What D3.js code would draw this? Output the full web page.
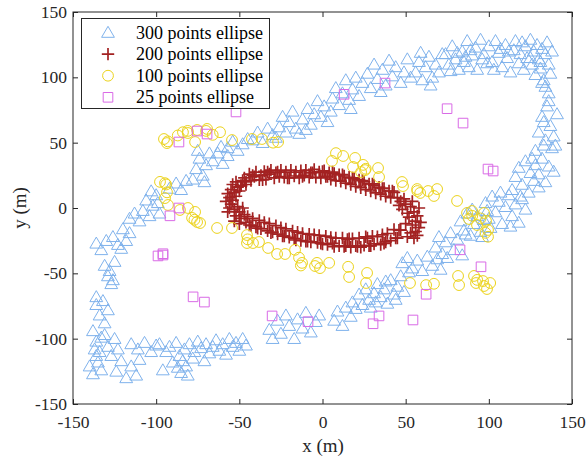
<!DOCTYPE html>
<html>
<head>
<meta charset="utf-8">
<script src="https://cdn.jsdelivr.net/npm/d3@7"></script>
<style>
  html, body { margin: 0; padding: 0; background: #fff; }
  svg { display: block; }
  svg text { font-family: "Liberation Serif", "Tinos", "Times New Roman", "Times", "Nimbus Roman", "FreeSerif", "DejaVu Serif", serif; }
</style>
</head>
<body>
<svg id="chart" width="588" height="460"></svg>
<script>
// Sampled ellipse points (metres), one array per sampling density
const pts300 = [
  [97,118],[100,124],[102,112],[104,128],[106,119],[108,108],[110,125],[111,115],[113,104],[115,121],
  [116,128],[118,111],[119,118],[121,106],[122,124],[123,115],[125,129],[126,110],[127,120],[128,102],
  [129,125],[130,114],[131,107],[132,122],[133,98],[134,118],[135,127],[136,110],[137,103],[138,120],
  [134,93],[136,88],[132,96],[131,112],[125,115],[120,127],[112,120],[107,122],[103,106],[99,111],
  [74,118],[76,110],[78,124],[80,114],[82,106],[84,120],[85,112],[87,128],[88,108],[90,117],
  [92,123],[93,106],[95,129],[96,114],[89,121],[81,119],[77,105],[86,116],
  [56,104],[58,112],[60,98],[62,108],[64,116],[66,100],[68,110],[70,104],[72,118],[65,94],[59,119],
  [24,96],[27,103],[29,92],[31,110],[33,99],[36,106],[38,94],[40,113],[42,101],[44,108],
  [47,96],[49,104],[51,114],[53,100],[35,89],
  [6,84],[8,92],[10,79],[12,88],[14,98],[16,83],[18,91],[20,100],[22,86],[17,76],
  [-12,68],[-9,76],[-7,64],[-5,72],[-3,82],[-1,70],[1,78],[3,66],[5,74],[-10,60],
  [-26,62],[-24,70],[-22,58],[-20,66],[-18,74],[-16,61],[-14,57],[-28,54],
  [-42,52],[-39,58],[-36,50],[-33,61],[-30,56],
  [-57,46],[-54,51],[-51,44],[-48,49],[-45,53],
  [-66,36],[-63,42],[-60,34],[-57,40],[-61,47],
  [-78,22],[-76,30],[-74,38],[-72,25],[-70,33],[-68,42],[-75,44],[-71,20],
  [-92,15],[-88,19],[-85,14],[-82,21],
  [-108,-2],[-106,6],[-104,-6],[-102,2],[-100,10],[-98,-4],[-103,13],[-99,4],
  [-116,-8],[-113,-4],[-110,-10],
  [-126,-22],[-123,-28],[-120,-16],[-118,-25],[-116,-19],[-121,-31],
  [-136,-27],[-133,-32],[-130,-25],
  [-131,-44],[-129,-52],[-127,-58],[-125,-41],[-128,-48],[-126,-55],
  [-136,-68],
  [-136,-74],[-134,-82],[-131,-88],[-129,-78],[-132,-71],
  [-138,-94],[-136,-102],[-134,-110],[-131,-97],[-129,-106],[-127,-113],[-125,-100],[-123,-108],[-133,-99],[-137,-108],
  [-140,-121],[-138,-127],[-135,-118],[-133,-124],[-136,-113],
  [-124,-125],[-121,-117],[-118,-130],[-115,-121],[-112,-128],[-110,-116],
  [-115,-104],[-111,-108],[-107,-103],[-103,-110],[-100,-105],
  [-98,-104],[-96,-124],[-94,-110],[-92,-106],[-90,-118],[-88,-103],[-86,-113],[-85,-126],[-83,-108],[-82,-121],
  [-80,-104],[-78,-115],[-77,-110],[-75,-102],[-73,-107],[-71,-117],[-70,-104],[-68,-111],[-66,-106],[-64,-101],
  [-62,-109],[-60,-104],[-58,-112],[-56,-100],[-54,-106],[-52,-103],[-50,-109],[-48,-100],[-46,-105],[-87,-122],
  [-84,-117],[-81,-128],
  [-32,-93],[-30,-100],[-27,-86],[-25,-96],[-22,-82],[-20,-90],[-17,-100],[-15,-85],[-12,-92],[-10,-80],
  [-7,-95],[-4,-87],[-2,-82],
  [7,-86],[9,-79],[12,-90],[14,-76],[17,-83],
  [18,-72],[20,-77],[22,-66],[24,-74],[26,-62],[28,-70],[29,-76],[31,-65],[33,-58],[35,-68],
  [37,-62],[39,-73],[41,-55],[43,-66],[45,-60],[47,-52],[49,-64],[32,-72],[38,-56],[44,-70],
  [48,-42],[51,-38],[54,-46],[57,-40],[60,-48],[63,-37],[66,-44],[69,-39],[71,-47],[52,-49],
  [68,-30],[70,-22],[72,-35],[74,-26],[77,-19],[79,-32],[81,-24],[84,-36],[86,-20],[75,-38],
  [83,-10],[85,-17],[87,-4],[89,-21],[91,-12],[93,-6],[95,-18],[97,-9],[99,-2],[101,-15],[90,-1],[96,-22],
  [98,4],[100,-8],[102,9],[104,-3],[106,5],[108,-12],[110,1],[112,10],[114,-6],[116,3],
  [118,-11],[120,7],[122,-1],[107,12],[113,-14],
  [114,14],[116,24],[118,31],[120,18],[122,36],[124,12],[125,27],[127,21],[128,33],[130,16],[119,9],[126,38],
  [128,44],[130,26],[132,38],[134,20],[136,32],[138,46],[133,48],[139,28],
  [130,58],[132,70],[134,52],[135,78],[137,63],[139,55],[141,72],[136,82],[133,66],[140,48]
];

const pts200 = [
  [-49,17],[-47,23],[-46,20],[-44,26],[-43,21],[-41,24],[-40,27.5],[-38,21.5],[-37,25],[-35,28],
  [-34,22],[-32,26],[-31,29],[-29,23],[-28,27],[-26,24],[-25,29],[-23,23.5],[-22,27.5],[-20,23],
  [-19,29],[-17,24.5],[-16,27.5],[-14,23],[-13,28.5],[-11,25],[-10,29],[-8,23.5],[-7,27],[-5,29.5],
  [-4,23.5],[-2,27.5],[-1,23],[1,28.5],[2,24],[4,27],[5,22],[7,26.5],[8,21],[10,25.5],
  [11,20.5],[13,24.5],[14,19],[16,23.5],[17,18],[19,22.5],[20,16.5],[22,21.5],[23,15.5],[25,20],
  [26,14],[28,18.5],[29,13],[31,17.5],[32,11.5],[34,16],[35,10.5],[37,15],[38,9],[40,13],
  [41,8],[43,12],
  [45,8],[47,5],[46,2],[49,7],[48,-1],[50,3],[51,-4],[53,1],[52,-7],[54,5],
  [55,-3],[56,-10],[54,-13],[57,-6],[58,-15],[56,-18],[59,-11],[57,-21],[55,-23],[53,-19],
  [51,-22],[58,0],[50,-12],[47,-17],
  [46,-17],[44,-23],[43,-16.5],[41,-25],[39,-19.5],[38,-26],[36,-20.5],[35,-28],[33,-22],[31,-27.5],
  [30,-21.5],[28,-29],[27,-23],[25,-28.5],[23,-30],[22,-23],[20,-29],[18,-23.5],[17,-30],[15,-24],
  [13,-29.5],[12,-23],[10,-29],[8,-23],[7,-29.5],[5,-22.5],[3,-28],[2,-21.5],[0,-27.5],[-2,-21],
  [-3,-26.5],[-5,-20.5],[-7,-26],[-8,-20],[-10,-25.5],[-12,-19.5],[-13,-25],[-15,-18.5],[-17,-23.5],[-18,-17.5],
  [-20,-22.5],[-22,-16],[-23,-21.5],[-25,-15],[-27,-20],[-28,-13.5],[-30,-18.5],[-32,-12],[-33,-17.5],[-35,-11],
  [-37,-16],[-38,-9.5],[-40,-14.5],[-42,-8],[-43,-13.5],[-45,-6.5],
  [-47,-5],[-49,-8],[-50,-3],[-48,0],[-52,-6],[-51,1],[-53,-1],[-55,3],[-54,6],[-52,9],
  [-56,8],[-57,11],[-55,14],[-53,12],[-51,16],[-54,18],[-52,20],[-50,13],[-49,17],[-56,0],
  [-58,5],[-57,-3],[-53,-10],[-50,-12],[-48,21],[-46,18],
  [-42,25],[-36,21.5],[-27,27.5],[-21,23],[-12,24],[-6,27],[0,28],[6,27.5],[12,25.5],[18,23],
  [24,21],[30,18.5],[36,15],[42,13],[-33,27.5],[3,24],
  [45,-23],[37,-27],[29,-29],[21,-29.5],[14,-29],[6,-27],[-1,-27],[-9,-25.5],[-16,-24.5],[-24,-21.5],
  [-31,-19],[-39,-15.5],[-44,-13],[16,-23.5],[26,-22],[-46,-11]
];

const pts100 = [
  [-95.3,52.8],[-93.5,49.7],[-83.9,58],[-80.9,57.4],[-75.4,59.7],[-69.4,60.5],[-61.6,58],[-76.6,50.5],[-54.4,52],[-42.4,52.8],
  [-36.4,52.8],[-29.7,50],[-26.7,50.5],[-87,55.5],[-66,56],
  [-97.7,20],[-94.7,19],[-93.5,12],[-94.7,7.6],[-92.9,2.3],[-85.7,-1.5],[-80.9,0],[-76.6,-3],[-78.4,-7.6],[-75.4,-10.7],
  [-73.6,-11.5],[-63.4,-15.3],[-54.4,-15.3],
  [-45.4,-20.7],[-45.4,-26.8],[-41.8,-26.8],[-38.2,-26],[-32.7,-30.6],[-27.3,-35.2],[-22.5,-35.2],[-16.5,-32],[-14.1,-38],[-12.3,-42],
  [-3.3,-42],[-13,-44],[-4.5,-44.4],[-1.5,-46],[4,-42],[15.4,-45],[16,-52.8],[26.8,-49.7],[26.2,-57.4],[52.6,-57.4],
  [62.3,-59],[67,-58],
  [81.5,-52],[82.1,-59],[91.1,-52],[92.3,-57.4],[96.5,-55.9],[97.1,-59.7],[98.9,-62],[100.8,-57.4],
  [5.7,36],[8.1,42],[12.4,39.8],[19.6,38.3],[18.4,31.4],[24.4,33],[25.6,29],[23.2,27.5],[33.4,30.6],[34,23.7],
  [47.8,19.9],[48.4,16.8],[56.9,14.5],[58.7,11.5],[63.5,13],[67,9.2],[68.9,14.5],[80.9,5.4],
  [86.9,-3.8],[89.9,-2.3],[88.1,-8.4],[97.1,-3.8],[92.9,-13],[98.3,-9.9],[99.5,-16.8],[99.5,-22],[90,-6],[95,-8],
  [-93,51],[-81,59],[-70,59],[-94,18],[-77,-9],[-45,-24],[26,30],[57,13],[93,-55],[98,-19]
];

const pts25 = [
  [-52,73.5],[-75.4,58.9],[-69.4,56.6],[-86.3,50.5],[-86.3,0],[-91.7,-6],[-98.9,-36.7],[-95.9,-36],
  [-77.8,-68],[-71,-72],[-30.3,-82.6],[-8.7,-87],[30.4,-88.6],[34,-82.6],[54.4,-85.7],[62.3,-66],
  [82.7,-32],[95.3,-45],[74.9,76],[84.5,65],[99.5,29.8],[102.6,28.3],[13,87],[37.6,95.6],[-95.9,-35]
];

const seriesNames = ["300 points ellipse", "200 points ellipse", "100 points ellipse", "25 points ellipse"];
const xTicks = [-150, -100, -50, 0, 50, 100, 150];
const yTicks = [-150, -100, -50, 0, 50, 100, 150];

const svg = d3.select("#chart");
const plot = { left: 73, right: 572, top: 12, bottom: 404 };
const x = d3.scaleLinear().domain([-150, 150]).range([plot.left, plot.right]);
const y = d3.scaleLinear().domain([-150, 150]).range([plot.bottom, plot.top]);

const axisColor = "#262626";
const serif = '"Liberation Serif", "Tinos", "Times New Roman", "Times", "Nimbus Roman", "FreeSerif", "DejaVu Serif", serif';
const fontSize = 17.5;

// marker shapes
const markers = [
  { color: "#7fb2ec", path: "M0,-6.2L6.4,4.8L-6.4,4.8Z", width: 1 },
  { color: "#a32222", path: "M-6.2,0H6.2M0,-6.2V6.2", width: 1.7 },
  { color: "#ecd31c", path: d3.symbol().type(d3.symbolCircle).size(Math.PI * 5.4 * 5.4)(), width: 1 },
  { color: "#d96ae6", path: "M-4.8,-4.8H4.8V4.8H-4.8Z", width: 1 }
];
const allSeries = [pts300, pts200, pts100, pts25];

svg.append("defs").append("clipPath").attr("id", "plotClip")
  .append("rect").attr("x", plot.left).attr("y", plot.top)
  .attr("width", plot.right - plot.left).attr("height", plot.bottom - plot.top);

const marks = svg.append("g").attr("clip-path", "url(#plotClip)");
allSeries.forEach((data, i) => {
  const m = markers[i];
  marks.append("g").selectAll("path").data(data).join("path")
    .attr("d", m.path)
    .attr("transform", d => `translate(${x(d[0])},${y(d[1])})`)
    .attr("fill", "none")
    .attr("stroke", m.color)
    .attr("stroke-width", m.width);
});

// axes with inward ticks on all four sides
const fmt = d => String(d);
const styleAxis = g => {
  g.attr("font-family", null).attr("font-size", null);
  g.select(".domain").remove();
  g.selectAll(".tick line").attr("stroke", axisColor);
  g.selectAll(".tick text").attr("fill", axisColor)
    .style("font-family", serif).style("font-size", fontSize + "px");
};
svg.append("g").attr("transform", `translate(0,${plot.bottom})`)
  .call(d3.axisBottom(x).tickValues(xTicks).tickFormat(fmt).tickSizeInner(-5).tickSizeOuter(0).tickPadding(12))
  .call(styleAxis);
svg.append("g").attr("transform", `translate(0,${plot.top})`)
  .call(d3.axisTop(x).tickValues(xTicks).tickFormat("").tickSizeInner(-5).tickSizeOuter(0))
  .call(styleAxis);
svg.append("g").attr("transform", `translate(${plot.left},0)`)
  .call(d3.axisLeft(y).tickValues(yTicks).tickFormat(fmt).tickSizeInner(-5).tickSizeOuter(0).tickPadding(6))
  .call(styleAxis);
svg.append("g").attr("transform", `translate(${plot.right},0)`)
  .call(d3.axisRight(y).tickValues(yTicks).tickFormat("").tickSizeInner(-5).tickSizeOuter(0))
  .call(styleAxis);

svg.append("rect")
  .attr("x", plot.left).attr("y", plot.top)
  .attr("width", plot.right - plot.left).attr("height", plot.bottom - plot.top)
  .attr("fill", "none").attr("stroke", axisColor).attr("stroke-width", 1);

// axis titles
svg.append("text").attr("x", 323).attr("y", 452).attr("text-anchor", "middle")
  .style("font-family", serif).style("font-size", "19px").attr("fill", axisColor).text("x (m)");
svg.append("text").attr("transform", "translate(26,208) rotate(-90)").attr("text-anchor", "middle")
  .style("font-family", serif).style("font-size", "19px").attr("fill", axisColor).text("y (m)");

// legend
const legend = svg.append("g");
legend.append("rect").attr("x", 81.5).attr("y", 18.5).attr("width", 188).attr("height", 90)
  .attr("fill", "#fff").attr("stroke", axisColor).attr("stroke-width", 1);
seriesNames.forEach((name, i) => {
  const cy = 32.5 + i * 21.6;
  const m = markers[i];
  legend.append("path").attr("d", m.path).attr("transform", `translate(108,${cy})`)
    .attr("fill", "none").attr("stroke", m.color).attr("stroke-width", m.width);
  legend.append("text").attr("x", 136).attr("y", cy).attr("dy", "0.34em")
    .style("font-family", serif).style("font-size", "18px").attr("fill", "#000").text(name);
});
</script>
</body>
</html>
